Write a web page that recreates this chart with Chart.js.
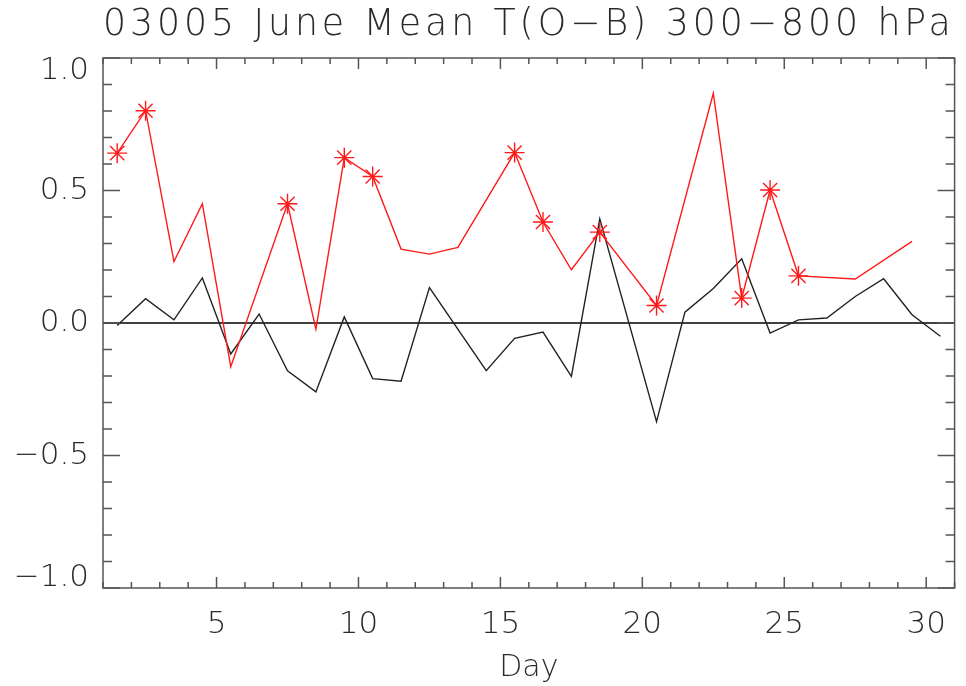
<!DOCTYPE html>
<html>
<head>
<meta charset="utf-8">
<script src="https://cdn.jsdelivr.net/npm/chart.js@4.4.1/dist/chart.umd.min.js"></script>
<style>
  html, body { margin: 0; padding: 0; background: #ffffff; }
  canvas { display: block; }
</style>
</head>
<body>
<canvas id="chart" width="966" height="686"></canvas>
<script>
// Station 03005, June: daily mean temperature departures T(O-B), 300-800 hPa
const titleText = '03005 June Mean T(O\u2212B) 300\u2212800 hPa';
const xAxisTitle = 'Day';

const days = [1.5, 2.5, 3.5, 4.5, 5.5, 6.5, 7.5, 8.5, 9.5, 10.5,
              11.5, 12.5, 13.5, 14.5, 15.5, 16.5, 17.5, 18.5, 19.5, 20.5,
              21.5, 22.5, 23.5, 24.5, 25.5, 26.5, 27.5, 28.5, 29.5, 30.5];

// null = no value for that day
const redSeries = [0.641, 0.801, 0.232, 0.450, -0.165, null, 0.450, -0.023, 0.624, 0.553,
                   0.279, 0.260, 0.285, null, 0.643, 0.381, 0.201, 0.343, null, 0.066,
                   null, 0.867, 0.094, 0.502, 0.178, null, 0.166, null, 0.308, null];

const blackSeries = [-0.009, 0.092, 0.012, 0.170, -0.117, 0.034, -0.180, -0.260, 0.023, -0.210,
                     -0.220, 0.134, null, -0.180, -0.058, -0.034, -0.201, 0.393, null, -0.372,
                     0.041, 0.130, 0.242, -0.038, 0.012, 0.019, 0.100, 0.167, 0.031, -0.050];

// days whose red value is marked with an asterisk
const starredDays = [1.5, 2.5, 7.5, 9.5, 10.5, 15.5, 16.5, 18.5, 20.5, 23.5, 24.5, 25.5];

const xRange = [1, 31];
const yRange = [-1, 1];
const xTickValues = [5, 10, 15, 20, 25, 30];
const yTickValues = [-1, -0.5, 0, 0.5, 1];
const yTickLabels = ['\u22121.0', '\u22120.5', '0.0', '0.5', '1.0'];

const FONT_FAMILY = "'DejaVu Sans', 'Liberation Sans', sans-serif";
const TEXT_COLOR = '#2a2a2a';
const FRAME_COLOR = '#555555';

const toPoints = (vals) => days.map((d, i) => ({ x: d, y: vals[i] }));
const yLabelFor = (v) => {
  const i = yTickValues.findIndex(t => Math.abs(t - v) < 1e-9);
  return i >= 0 ? yTickLabels[i] : '';
};

// Wide letter spacing for the title only
const spacedTitle = {
  id: 'spacedTitle',
  afterInit(chart) {
    const block = chart.titleBlock;
    if (!block || block._spaced) return;
    const draw = block.draw.bind(block);
    block.draw = function (area) {
      const ctx = this.ctx;
      ctx.save();
      ctx.letterSpacing = '4px';
      draw(area);
      ctx.restore();
      ctx.letterSpacing = '0px';
    };
    block._spaced = true;
  }
};

// Box frame with inward major/minor ticks on all four sides,
// plus the end labels of the y axis, which sit just inside the box.
const frameTicks = {
  id: 'frameTicks',
  afterDraw(chart) {
    const { ctx, chartArea: a, scales: { x, y } } = chart;
    ctx.save();
    ctx.letterSpacing = '0px';
    ctx.strokeStyle = FRAME_COLOR;
    ctx.lineWidth = 1.5;
    ctx.strokeRect(a.left, a.top, a.right - a.left, a.bottom - a.top);
    ctx.beginPath();
    for (let d = Math.ceil(x.min); d <= x.max; d++) {
      const px = x.getPixelForValue(d);
      const len = d % 5 === 0 ? 11 : 6;
      ctx.moveTo(px, a.bottom); ctx.lineTo(px, a.bottom - len);
      ctx.moveTo(px, a.top); ctx.lineTo(px, a.top + len);
    }
    for (let k = Math.round(y.min * 10); k <= Math.round(y.max * 10); k++) {
      const py = y.getPixelForValue(k / 10);
      const len = k % 5 === 0 ? 17 : 9;
      ctx.moveTo(a.left, py); ctx.lineTo(a.left + len, py);
      ctx.moveTo(a.right, py); ctx.lineTo(a.right - len, py);
    }
    ctx.stroke();

    ctx.fillStyle = TEXT_COLOR;
    ctx.font = '200 31px ' + FONT_FAMILY;
    ctx.textAlign = 'right';
    ctx.textBaseline = 'middle';
    const lx = a.left - 14;
    ctx.fillText(yLabelFor(yRange[1]), lx, y.getPixelForValue(yRange[1]) + 13);
    ctx.fillText(yLabelFor(yRange[0]), lx, y.getPixelForValue(yRange[0]) - 10);
    ctx.restore();
  }
};

new Chart(document.getElementById('chart'), {
  type: 'line',
  data: {
    datasets: [
      {
        label: 'zero',
        data: [{ x: xRange[0], y: 0 }, { x: xRange[1], y: 0 }],
        borderColor: '#000000',
        borderWidth: 1.6,
        pointRadius: 0,
        order: 3
      },
      {
        label: 'black',
        data: toPoints(blackSeries),
        borderColor: '#222222',
        borderWidth: 1.4,
        pointRadius: 0,
        spanGaps: true,
        order: 2
      },
      {
        label: 'red',
        data: toPoints(redSeries),
        borderColor: '#ff1a1a',
        borderWidth: 1.4,
        spanGaps: true,
        pointStyle: 'star',
        pointBorderColor: '#ff1a1a',
        pointBorderWidth: 1.4,
        pointRadius: (ctx) => (ctx.raw && starredDays.includes(ctx.raw.x)) ? 10 : 0,
        pointHoverRadius: 0,
        order: 1
      }
    ]
  },
  options: {
    responsive: false,
    devicePixelRatio: 1,
    animation: false,
    events: [],
    layout: { padding: { left: 0, right: 4, top: 0, bottom: 0 } },
    plugins: {
      legend: { display: false },
      tooltip: { enabled: false },
      title: {
        display: true,
        text: titleText,
        fullSize: false,
        color: TEXT_COLOR,
        font: { family: FONT_FAMILY, size: 37, weight: '200', lineHeight: 1.2 },
        padding: { top: 3.5, bottom: 10.1 }
      }
    },
    scales: {
      x: {
        type: 'linear',
        min: xRange[0],
        max: xRange[1],
        afterBuildTicks: (s) => { s.ticks = xTickValues.map(v => ({ value: v })); },
        afterFit: (s) => { s.height = 98; },
        grid: { display: false, drawTicks: false },
        border: { display: false },
        ticks: {
          padding: 18,
          maxRotation: 0,
          autoSkip: false,
          color: TEXT_COLOR,
          font: { family: FONT_FAMILY, size: 31, weight: '200' }
        },
        title: {
          display: true,
          text: xAxisTitle,
          color: TEXT_COLOR,
          font: { family: FONT_FAMILY, size: 30, weight: '200' },
          padding: { top: 0, bottom: 0 }
        }
      },
      y: {
        type: 'linear',
        min: yRange[0],
        max: yRange[1],
        afterBuildTicks: (s) => { s.ticks = yTickValues.map(v => ({ value: v })); },
        afterFit: (s) => { s.width = 103; },
        grid: { display: false, drawTicks: false },
        border: { display: false },
        ticks: {
          padding: 14,
          autoSkip: false,
          color: TEXT_COLOR,
          font: { family: FONT_FAMILY, size: 31, weight: '200' },
          callback: (v) => (v === yRange[0] || v === yRange[1]) ? '' : yLabelFor(v)
        }
      }
    }
  },
  plugins: [spacedTitle, frameTicks]
});
</script>
</body>
</html>
